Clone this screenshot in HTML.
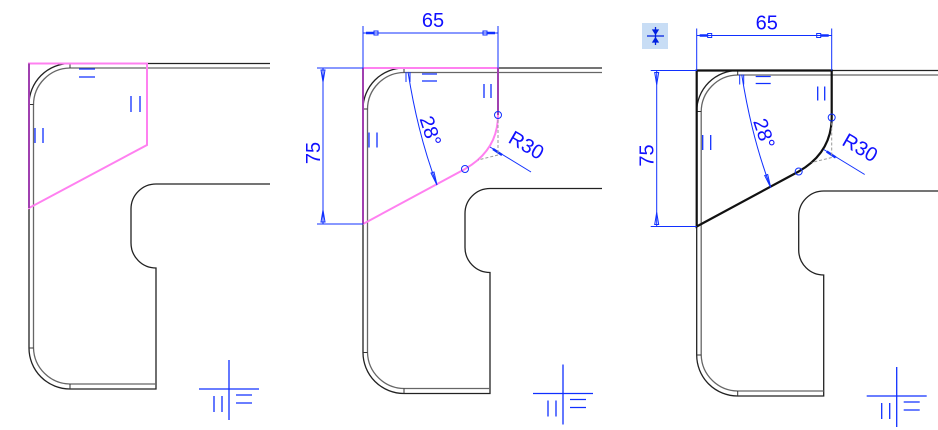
<!DOCTYPE html>
<html><head><meta charset="utf-8"><style>
html,body{margin:0;padding:0;background:#fff;}
svg{display:block}
text{font-family:"Liberation Sans",sans-serif;fill:#1010ff;}
</style></head><body>
<svg width="938" height="430" viewBox="0 0 938 430" xmlns="http://www.w3.org/2000/svg">
<defs>
<g id="part">
  <path d="M900,63.5 H70 A41,41 0 0 0 29,104.5 V348 A41,41 0 0 0 70,389 H156 V268 A25,25 0 0 1 131,243 V209 A25,25 0 0 1 156,184 H900" fill="none" stroke="#222" stroke-width="1.3"/>
  <path d="M900,68 H70 A37,37 0 0 0 33.5,105 V348 A37,37 0 0 0 70,384 H156" fill="none" stroke="#666" stroke-width="1.3"/>
  <path d="M70,63.5 V68 M29,104.5 H33.5 M29,348 H33.5 M70,384 V389" stroke="#333" stroke-width="1"/>
  <g stroke="#1030ff" stroke-width="1.3">
    <path d="M35,128 V143 M43,128 V143"/>
    <path d="M229,360 V420 M199,389 H259 M214,396 V412 M222,396 V412 M236,395 H252 M236,403 H252"/>
  </g>
</g>
<g id="dims" fill="none" stroke="#1030ff" stroke-width="1">
  <path d="M363,26 V68 M498,26 V68 M363,33 H498"/>
  <path d="M317,68 H363 M317,224 H363 M323,68 V224"/>
  <path d="M408,72 Q418,135 437,185"/>
  <path d="M490,147 L531,172"/>
  <rect x="374" y="31" width="4" height="4"/><rect x="483" y="31" width="4" height="4"/>
  <path d="M366,33 H374 M487,33 H495" stroke-width="2.5"/>
  <path d="M321,70 L323,82 L325,70 Z M321,222 L323,210 L325,222 Z"/>
  <path d="M406,72 V82 M410,72 V82"/>
  <path d="M431,173 L437,185 L434,172 Z"/>
  <path d="M493,149 L502,155" stroke-width="2.5"/>
  <circle cx="498" cy="115" r="3.5"/><circle cx="465" cy="169" r="3.5"/>
  <path d="M498,120 V155 M498,155 L478,160" stroke="#999" stroke-dasharray="3,2"/>
  <path d="M422,74 H437 M422,81 H437 M484,84 V98 M491,84 V98" stroke-width="1.3"/>
</g>
<g id="dimtext">
  <text x="433" y="27" font-size="20" text-anchor="middle">65</text>
  <text transform="translate(320,153) rotate(-90)" font-size="20" text-anchor="middle">75</text>
  <text transform="translate(424,133) rotate(72)" font-size="20" text-anchor="middle">28°</text>
  <text transform="translate(523,151) rotate(30)" font-size="20" text-anchor="middle">R30</text>
</g>
<clipPath id="c1"><rect x="0" y="0" width="270" height="430"/></clipPath>
<clipPath id="c2"><rect x="0" y="0" width="268" height="430"/></clipPath>
<clipPath id="c3"><rect x="0" y="0" width="271" height="430"/></clipPath>
</defs>

<!-- panel 1 -->
<g clip-path="url(#c1)"><use href="#part"/></g>
<path d="M79,69 H95 M79,77 H95 M131,96 V112 M140,96 V112" stroke="#1030ff" stroke-width="1.3"/>
<path d="M29,63.5 H147 V145 L29,208 Z" fill="none" stroke="#ff80f0" stroke-width="2"/>
<path d="M29,63.5 V208" stroke="#a040b0" stroke-width="2"/>

<!-- panel 2 -->
<g transform="translate(334,4.5)"><g clip-path="url(#c2)"><use href="#part"/></g></g>
<path d="M363,68 H498 V115 Q498,150 465,169 L363,224" fill="none" stroke="#ff80f0" stroke-width="2"/>
<path d="M363,68 V224 M498,68 V115" stroke="#a040b0" stroke-width="2"/>
<use href="#dims"/>
<use href="#dimtext"/>

<!-- panel 3 -->
<g transform="translate(667.7,7)"><g clip-path="url(#c3)"><use href="#part"/></g></g>
<g transform="translate(333.7,2.5)">
  <path d="M363,68 H498 V115 Q498,150 465,169 L363,224 Z" fill="none" stroke="#111" stroke-width="2.2"/>
  <use href="#dims"/>
  <use href="#dimtext"/>
</g>
<rect x="642" y="23" width="26" height="26" fill="#c8ddf5"/>
<g stroke="#0020e0" stroke-width="1.3" fill="#0020e0">
  <path d="M647,36 H664 M655.5,27 V45"/>
  <path d="M653,30 L655.5,34 L658,30 Z M653,42 L655.5,38 L658,42 Z"/>
</g>
</svg>
</body></html>
